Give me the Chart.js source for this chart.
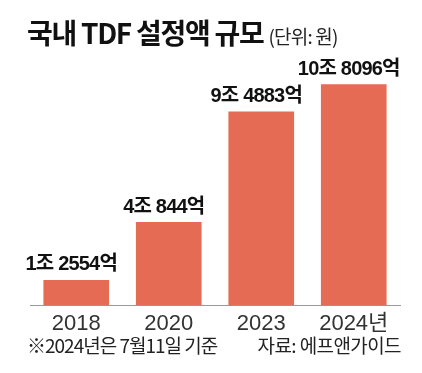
<!DOCTYPE html>
<html>
<head>
<meta charset="utf-8">
<script src="https://cdn.jsdelivr.net/npm/chart.js@4"></script>
<style>
  body { margin: 0; background: #fff; }
  #wrap { position: relative; width: 422px; height: 373px; overflow: hidden; }
  #title { position: absolute; left: 27px; top: 12px; font-family: 'Noto Sans CJK KR', sans-serif; font-weight: 700; font-size: 28px; letter-spacing: -1.3px; color: #111; white-space: nowrap; }
  #title small { font-size: 19px; font-weight: 400; letter-spacing: -0.8px; color: #222; }
  #note, #src { position: absolute; top: 331px; font-family: 'Noto Sans CJK KR', sans-serif; font-size: 19px; letter-spacing: -1px; color: #222; white-space: nowrap; }
  #note { left: 27px; }
  #src { right: 21px; letter-spacing: -0.6px; }
  canvas { position: absolute; left: 0; top: 0; }
</style>
</head>
<body>
<div id="wrap">
  <canvas id="chart" width="422" height="373"></canvas>
  <div id="title">국내 TDF 설정액 규모 <small>(단위: 원)</small></div>
  <div id="note">※2024년은 7월11일 기준</div>
  <div id="src">자료: 에프앤가이드</div>
</div>
<script>
const years = ['2018', '2020', '2023', '2024년'];
const amounts = [1.2554, 4.0844, 9.4883, 10.8096]; // 조 원
const valueLabels = ['1조 2554억', '4조 844억', '9조 4883억', '10조 8096억'];

const barLabels = {
    id: 'barLabels',
    afterDatasetsDraw(chart) {
        const ctx = chart.ctx;
        const meta = chart.getDatasetMeta(0);
        ctx.save();
        ctx.font = "700 20px 'Liberation Sans', 'Noto Sans CJK KR', sans-serif";
        ctx.letterSpacing = '-0.8px';
        ctx.fillStyle = '#111';
        ctx.textAlign = 'center';
        ctx.textBaseline = 'bottom';
        meta.data.forEach((bar, i) => {
            ctx.fillText(valueLabels[i], bar.x - 5, bar.y - 5);
        });
        ctx.restore();
    }
};

new Chart(document.getElementById('chart'), {
    type: 'bar',
    data: {
        labels: years,
        datasets: [{
            data: amounts,
            backgroundColor: '#e56b55',
            borderWidth: 0,
            categoryPercentage: 1,
            barPercentage: 0.71
        }]
    },
    options: {
        responsive: false,
        animation: false,
        layout: {
            padding: { left: 30, right: 22, top: 60, bottom: 31 }
        },
        plugins: {
            legend: { display: false },
            tooltip: { enabled: false }
        },
        scales: {
            y: {
                display: false,
                min: 0,
                max: 12
            },
            x: {
                grid: { display: false, drawTicks: false },
                border: { display: true, color: '#9a9a9a', width: 1 },
                ticks: {
                    padding: 5,
                    color: '#333',
                    font: { family: "'Liberation Sans', 'Noto Sans CJK KR', sans-serif", size: 22 }
                }
            }
        }
    },
    plugins: [barLabels]
});
</script>
</body>
</html>
